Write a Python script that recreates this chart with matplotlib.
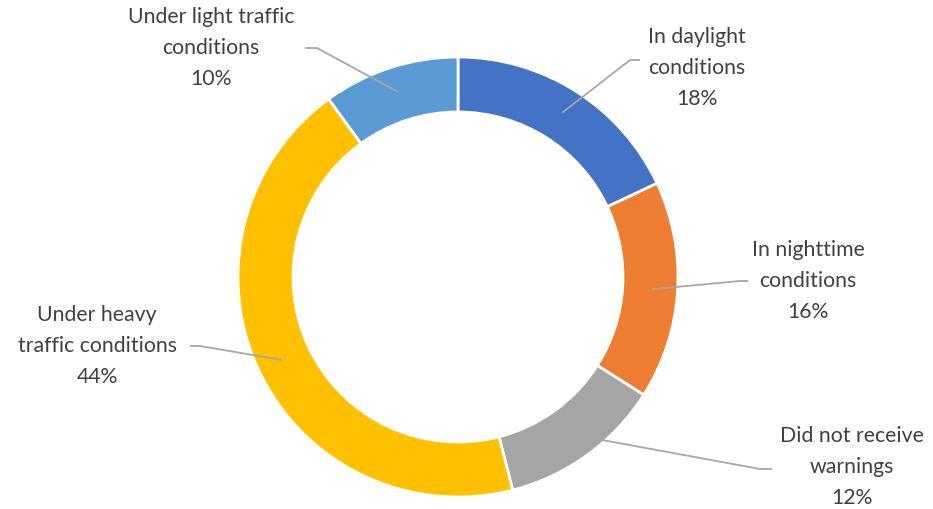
import matplotlib.pyplot as plt
import numpy as np

labels = ["In daylight\nconditions", "In nighttime\nconditions", "Did not receive\nwarnings",
          "Under heavy\ntraffic conditions", "Under light traffic\nconditions"]
values = [18, 16, 12, 44, 10]
colors = ["#4472C4", "#ED7D31", "#A5A5A5", "#FFC000", "#5B9BD5"]

# label placement (pixel coords, y up) and elbow x for leader lines
label_pos = [(697, 441), (808, 228), (852, 42), (97, 163), (211, 461)]
elbow_x = [630, 740, 760, 200, 317]
line_end_x = [640, 748, 772, 190, 305]

W, H = 933, 509
cx, cy, R = 458, 232, 220

fig = plt.figure(figsize=(W / 100, H / 100), dpi=100)
ax = fig.add_axes([0, 0, 1, 1])

wedges, _ = ax.pie(values, colors=colors, startangle=90, counterclock=False,
                   center=(cx, cy), radius=R, frame=True,
                   wedgeprops=dict(width=R * 0.25, edgecolor="white", linewidth=2))
ax.set_xlim(0, W)
ax.set_ylim(0, H)
ax.set_aspect("equal")
ax.axis("off")

total = sum(values)
start = 90
for i, v in enumerate(values):
    ang = start - v / total * 360 / 2
    start -= v / total * 360
    r = R * 0.885
    px = cx + r * np.cos(np.radians(ang))
    py = cy + r * np.sin(np.radians(ang))
    tx, ty = label_pos[i]
    ey = ty
    if i == 0:
        ey = ty + 8
    if i == 2:
        ey = ty - 2
    ax.plot([px, elbow_x[i], line_end_x[i]], [py, ey, ey], color="#A6A6A6", lw=1.3,
            solid_capstyle="butt")
    ax.text(tx, ty, f"{labels[i]}\n{v}%", ha="center", va="center", fontsize=15.3,
            color="#404040", family="Lato", linespacing=1.7)

fig.savefig("out.png", dpi=100)
